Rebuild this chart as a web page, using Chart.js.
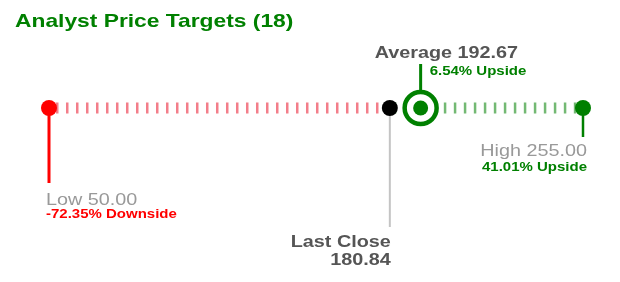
<!DOCTYPE html>
<html>
<head>
<meta charset="utf-8">
<script src="https://cdn.jsdelivr.net/npm/chart.js@4.4.1/dist/chart.umd.min.js"></script>
<style>
  html, body { margin: 0; padding: 0; background: #fff; }
  #wrap { width: 620px; height: 282px; }
</style>
</head>
<body>
<div id="wrap"><canvas id="targets" width="620" height="282"></canvas></div>
<script>
// --- data ---
const analystCount = 18;
const pointNames = ['Low', 'Last Close', 'Average', 'High'];
const pointValues = [50.00, 180.84, 192.67, 255.00];
const changeTexts = ['-72.35% Downside', '', '6.54% Upside', '41.01% Upside'];

const GREEN = '#008000';
const RED = '#ff0000';
const STRETCH = 1.2; // reference text is a bit wide

const [lowVal, closeVal, avgVal, highVal] = pointValues;

// draws text a bit wider, like the reference
function wideText(ctx, text, x, y, align, font, color) {
    ctx.save();
    ctx.font = font;
    ctx.fillStyle = color;
    ctx.textAlign = align;
    ctx.textBaseline = 'alphabetic';
    ctx.translate(x, y);
    ctx.scale(STRETCH, 1);
    ctx.fillText(text, 0, 0);
    ctx.restore();
}

function stem(ctx, x, y1, y2, color, width) {
    ctx.save();
    ctx.strokeStyle = color;
    ctx.lineWidth = width;
    ctx.beginPath();
    ctx.moveTo(x, y1);
    ctx.lineTo(x, y2);
    ctx.stroke();
    ctx.restore();
}

const labelPlugin = {
    id: 'targetLabels',
    beforeDatasetsDraw(chart) {
        const ctx = chart.ctx;
        const xs = chart.scales.x;
        const y0 = chart.scales.y.getPixelForValue(0);
        const xLow = xs.getPixelForValue(lowVal);
        const xClose = xs.getPixelForValue(closeVal);
        const xAvg = xs.getPixelForValue(avgVal);
        const xHigh = xs.getPixelForValue(highVal);

        stem(ctx, xLow, y0, y0 + 75, RED, 3);
        stem(ctx, xClose, y0, y0 + 119, '#c4c4c4', 2);
        stem(ctx, xAvg, y0 - 44, y0 - 18, GREEN, 3);
        stem(ctx, xHigh, y0, y0 + 29, GREEN, 2.5);
    },
    afterDraw(chart) {
        const ctx = chart.ctx;
        const xs = chart.scales.x;
        const xLow = xs.getPixelForValue(lowVal);
        const xClose = xs.getPixelForValue(closeVal);
        const xAvg = xs.getPixelForValue(avgVal);
        const xHigh = xs.getPixelForValue(highVal);

        // title
        wideText(ctx, 'Analyst Price Targets (' + analystCount + ')', 15, 27, 'left', 'bold 19px "Liberation Sans", Arial, sans-serif', GREEN);

        // average
        wideText(ctx, pointNames[2] + ' ' + avgVal.toFixed(2), xAvg - 46, 58, 'left', 'bold 16.5px "Liberation Sans", Arial, sans-serif', '#555');
        wideText(ctx, changeTexts[2], xAvg + 9, 75, 'left', 'bold 12.5px "Liberation Sans", Arial, sans-serif', GREEN);

        // low
        wideText(ctx, pointNames[0] + ' ' + lowVal.toFixed(2), xLow - 3, 205, 'left', '16.5px "Liberation Sans", Arial, sans-serif', '#999');
        wideText(ctx, changeTexts[0], xLow - 3, 218, 'left', 'bold 12.5px "Liberation Sans", Arial, sans-serif', RED);

        // last close
        wideText(ctx, pointNames[1], xClose + 1, 247, 'right', 'bold 16.5px "Liberation Sans", Arial, sans-serif', '#555');
        wideText(ctx, closeVal.toFixed(2), xClose + 1, 265, 'right', 'bold 16.5px "Liberation Sans", Arial, sans-serif', '#555');

        // high
        wideText(ctx, pointNames[3] + ' ' + highVal.toFixed(2), xHigh + 4, 156, 'right', '16.5px "Liberation Sans", Arial, sans-serif', '#999');
        wideText(ctx, changeTexts[3], xHigh + 4, 171, 'right', 'bold 12.5px "Liberation Sans", Arial, sans-serif', GREEN);
    }
};

const pt = v => ({ x: v, y: 0 });

new Chart(document.getElementById('targets'), {
    type: 'scatter',
    data: {
        datasets: [
            {   // inner average dot
                data: [pt(avgVal)],
                pointRadius: 7.5,
                pointBackgroundColor: GREEN,
                pointBorderWidth: 0,
                clip: false,
                order: 0
            },
            {   // average ring
                data: [pt(avgVal)],
                pointRadius: 16,
                pointBackgroundColor: '#fff',
                pointBorderColor: GREEN,
                pointBorderWidth: 4.5,
                clip: false,
                order: 1
            },
            {   // low / close / high dots
                data: [pt(lowVal), pt(closeVal), pt(highVal)],
                pointRadius: 8,
                pointBackgroundColor: [RED, '#000', GREEN],
                pointBorderWidth: 0,
                clip: false,
                order: 2
            },
            {   // red ticks low -> last close
                type: 'line',
                data: [pt(lowVal), pt(closeVal)],
                borderColor: 'rgba(235, 40, 60, 0.6)',
                borderWidth: 11,
                borderDash: [2.5, 7.5],
                borderDashOffset: -7,
                pointRadius: 0,
                clip: false,
                order: 3
            },
            {   // green ticks last close -> high
                type: 'line',
                data: [pt(closeVal), pt(highVal)],
                borderColor: 'rgba(0, 128, 0, 0.55)',
                borderWidth: 11,
                borderDash: [2.5, 7.5],
                borderDashOffset: -4,
                pointRadius: 0,
                clip: false,
                order: 3
            }
        ]
    },
    options: {
        responsive: false,
        animation: false,
        devicePixelRatio: 1,
        layout: { padding: { left: 49, right: 37, top: 98, bottom: 164 } },
        scales: {
            x: { type: 'linear', display: false, min: Math.min(...pointValues), max: Math.max(...pointValues) },
            y: { display: false, min: -1, max: 1 }
        },
        plugins: {
            legend: { display: false },
            tooltip: { enabled: false },
            title: { display: false }
        }
    },
    plugins: [labelPlugin]
});
</script>
</body>
</html>
